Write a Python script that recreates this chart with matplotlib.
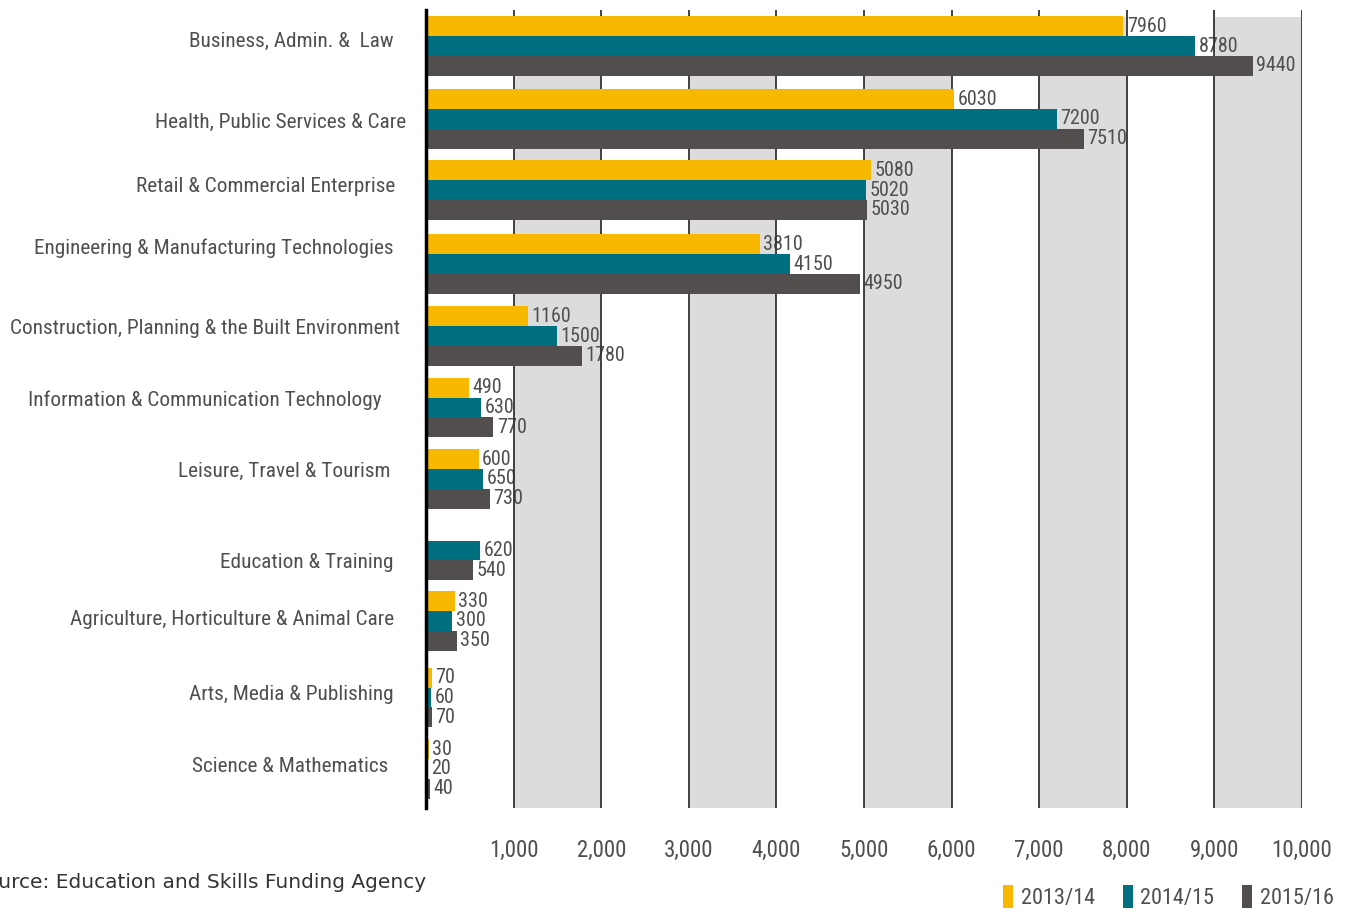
import numpy as np
import matplotlib
matplotlib.use("Agg")
import matplotlib.pyplot as plt
from matplotlib import font_manager
from matplotlib.font_manager import FontProperties
from matplotlib.patches import Patch

# ---- data -------------------------------------------------------------
categories = [
    "Business, Admin. &  Law",
    "Health, Public Services & Care",
    "Retail & Commercial Enterprise",
    "Engineering & Manufacturing Technologies",
    "Construction, Planning & the Built Environment",
    "Information & Communication Technology",
    "Leisure, Travel & Tourism",
    "Education & Training",
    "Agriculture, Horticulture & Animal Care",
    "Arts, Media & Publishing",
    "Science & Mathematics",
]
series_names = ["2013/14", "2014/15", "2015/16"]
values_2013 = [7960, 6030, 5080, 3810, 1160, 490, 600, np.nan, 330, 70, 30]
values_2014 = [8780, 7200, 5020, 4150, 1500, 630, 650, 620, 300, 60, 20]
values_2015 = [9440, 7510, 5030, 4950, 1780, 770, 730, 540, 350, 70, 40]
x_ticks = [1000, 2000, 3000, 4000, 5000, 6000, 7000, 8000, 9000, 10000]
source_note = "Source: Education and Skills Funding Agency"

# ---- layout (vertical units are figure pixels from the top) -----------
W, H = 1349, 913
group_centers = [46, 119, 190, 264, 336, 407.5, 479, 550.5, 621, 697.5, 769]
label_y = [41, 122, 187, 248, 328, 400, 471, 562, 619, 694, 767]
label_right = [394, 406, 395, 394, 400, 382, 390, 394, 394, 394, 388]
bar_h = 19.8
ax_left, ax_right, ax_top, ax_bottom = 426, 1302, 10, 808
band_top = 17

colors = ["#F9B800", "#006F80", "#524E4D"]
band_color = "#DCDCDC"
text_color = "#4F4F4F"


def narrow_font():
    names = {f.name for f in font_manager.fontManager.ttflist}
    for fam in ["Roboto Condensed", "Liberation Sans Narrow",
                "DejaVu Sans Condensed", "Open Sans Condensed",
                "Noto Sans Condensed"]:
        if fam in names:
            return {"family": fam}
    for f in font_manager.fontManager.ttflist:
        if (str(f.stretch) in ("condensed", "semi-condensed")
                and f.style == "normal"
                and str(f.weight) in ("400", "normal", "regular", "500", "medium")):
            return {"fname": f.fname}
    return None


nf = narrow_font()


def fp(size):
    if nf is None:
        return FontProperties(family="Roboto", size=size * 0.85)
    if "fname" in nf:
        return FontProperties(fname=nf["fname"], size=size)
    return FontProperties(family=nf["family"], size=size)


fig = plt.figure(figsize=(W / 100, H / 100), dpi=100)
ax = fig.add_axes([ax_left / W, 1 - ax_bottom / H,
                   (ax_right - ax_left) / W, (ax_bottom - ax_top) / H])
ax.set_xlim(0, 10000)
ax.set_ylim(ax_bottom, ax_top)

# alternating shaded columns
band_frac = (ax_bottom - band_top) / (ax_bottom - ax_top)
for x0 in range(1000, 10000, 2000):
    ax.axvspan(x0, x0 + 1000, ymin=0, ymax=band_frac,
               color=band_color, lw=0, zorder=0)

# vertical gridlines
for xv in x_ticks:
    ax.axvline(xv, color="#333333", lw=1.3, zorder=2.5)

series = [values_2013, values_2014, values_2015]
offsets = [-bar_h, 0, bar_h]
for vals, off, col in zip(series, offsets, colors):
    ys = [c + off for c in group_centers]
    v = np.array(vals, dtype=float)
    mask = ~np.isnan(v)
    ax.barh(np.array(ys)[mask], v[mask], height=bar_h, color=col,
            lw=0, zorder=3)
    for y, val in zip(ys, vals):
        if np.isnan(val):
            continue
        ax.annotate(f"{int(val)}", xy=(val, y), xytext=(2.5, 0),
                    textcoords="offset points", va="center", ha="left",
                    fontproperties=fp(14.5), color=text_color, zorder=2,
                    annotation_clip=False)

# category labels
for name, y, xr in zip(categories, label_y, label_right):
    fig.text(xr / W, 1 - y / H, name, ha="right", va="center",
             fontproperties=fp(15.3), color=text_color)

# axes styling
for s in ["top", "right", "bottom"]:
    ax.spines[s].set_visible(False)
ax.spines["left"].set_color("#000000")
ax.spines["left"].set_linewidth(2.5)
ax.spines["left"].set_zorder(4)
ax.set_yticks([])
ax.set_xticks(x_ticks)
ax.set_xticklabels([f"{t:,}" for t in x_ticks])
ax.tick_params(axis="x", length=0, pad=22, colors=text_color)
for lbl in ax.get_xticklabels():
    lbl.set_fontproperties(fp(16.5))

# legend
handles = [Patch(facecolor=c, edgecolor="none") for c in colors]
leg = fig.legend(handles, series_names, loc="lower right",
                 bbox_to_anchor=(1334 / W, 0.004), ncol=3, frameon=False,
                 borderpad=0, borderaxespad=0,
                 handlelength=0.45, handleheight=1.2, handletextpad=0.35,
                 columnspacing=1.25, prop=fp(16))
for t in leg.get_texts():
    t.set_color(text_color)

# source note
fig.text(426 / W, 1 - 882 / H, source_note, ha="right", va="center",
         fontsize=14.5, family="DejaVu Sans", color="#333333")

fig.savefig("out.png", dpi=100)
